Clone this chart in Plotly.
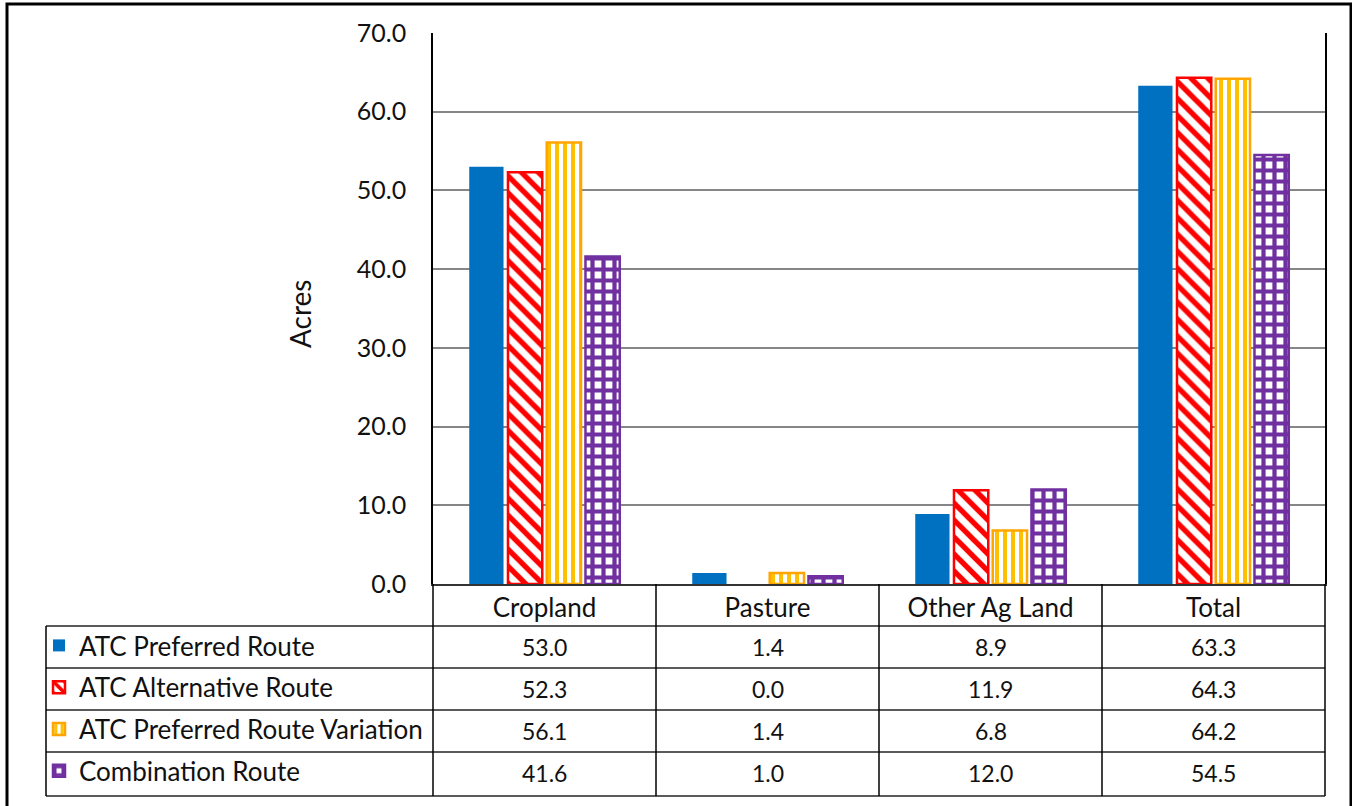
import plotly.graph_objects as go

categories = ["Cropland", "Pasture", "Other Ag Land", "Total"]
series_names = ["ATC Preferred Route", "ATC Alternative Route",
                "ATC Preferred Route Variation", "Combination Route"]
preferred = [53.0, 1.4, 8.9, 63.3]
alternative = [52.3, 0.0, 11.9, 64.3]
variation = [56.1, 1.4, 6.8, 64.2]
combination = [41.6, 1.0, 12.0, 54.5]
series_values = [preferred, alternative, variation, combination]
y_ticks = [0, 10, 20, 30, 40, 50, 60, 70]

W, H = 1352, 806
L, R, T, B = 433, 1325, 33, 584  # plot area in px
FONT = "Lato"
TXT = "#111111"


def px(x):
    return (x - L) / (R - L)


def py(y):
    return (B - y) / (B - T)


styles = [
    dict(color="#0070C0", line_color="#0070C0", line_w=0, pattern=None),
    dict(color="#FF0000", line_color="#FF0000", line_w=2.5,
         pattern=dict(shape="\\", fgcolor="#FF0000", bgcolor="white",
                      size=12, solidity=0.45, fillmode="replace")),
    dict(color="#FFA500", line_color="#FFA500", line_w=2.5,
         pattern=dict(shape="|", fgcolor="#FFC000", bgcolor="white",
                      size=8, solidity=0.5, fillmode="replace")),
    dict(color="#7030A0", line_color="#7030A0", line_w=2.5,
         pattern=dict(shape="+", fgcolor="#7030A0", bgcolor="white",
                      size=11, solidity=0.62, fillmode="replace")),
]

fig = go.Figure()
for name, vals, st in zip(series_names, series_values, styles):
    marker = dict(color=st["color"],
                  line=dict(color=st["line_color"],
                            width=[st["line_w"] if v > 0 else 0 for v in vals]))
    if st["pattern"]:
        marker["pattern"] = st["pattern"]
    fig.add_trace(go.Bar(x=categories, y=vals, name=name, legendgroup=name,
                         marker=marker))

shapes = []
line_h = dict(color="#5a5a5a", width=2)
line_v = dict(color="#000000", width=1.5)
for yy in [626, 668, 710, 752, 796]:
    shapes.append(dict(type="line", xref="paper", yref="paper",
                       x0=px(46), x1=px(1325), y0=py(yy), y1=py(yy), line=line_h))
for xx in [656, 879, 1102, 433, 1325]:
    shapes.append(dict(type="line", xref="paper", yref="paper",
                       x0=px(xx), x1=px(xx), y0=py(584), y1=py(796), line=line_v))
shapes.append(dict(type="line", xref="paper", yref="paper",
                   x0=px(46), x1=px(46), y0=py(626), y1=py(796), line=line_v))
shapes.append(dict(type="rect", xref="paper", yref="paper",
                   x0=px(7), x1=px(1351), y0=py(4), y1=py(812),
                   line=dict(color="black", width=3), layer="above"))

annotations = []
col_centers = [544.5, 767.5, 990.5, 1213.5]
row_centers = [647, 689, 731, 773]
for r, vals in enumerate(series_values):
    for c, v in enumerate(vals):
        annotations.append(dict(xref="paper", yref="paper", x=px(col_centers[c]),
                                y=py(row_centers[r]), text=f"{v:.1f}", showarrow=False,
                                font=dict(family=FONT, size=23, color=TXT),
                                xanchor="center", yanchor="middle"))
annotations.append(dict(xref="paper", yref="paper", x=px(300), y=py(314),
                        text="Acres", textangle=-90, showarrow=False,
                        font=dict(family=FONT, size=28, color=TXT),
                        xanchor="center", yanchor="middle"))

fig.update_layout(
    width=W, height=H,
    margin=dict(l=L, r=W - R, t=T, b=H - B, autoexpand=False),
    paper_bgcolor="white", plot_bgcolor="white",
    barmode="group", bargap=0.305, bargroupgap=0.115,
    shapes=shapes, annotations=annotations,
    showlegend=True,
    legend=dict(x=px(39), y=py(622), xanchor="left", yanchor="top",
                font=dict(family=FONT, size=26, color=TXT),
                tracegroupgap=5, traceorder="grouped",
                bgcolor="rgba(0,0,0,0)"),
    font=dict(family=FONT, color=TXT),
)
fig.update_yaxes(range=[0, 70], tickvals=y_ticks, tickformat=".1f",
                 showgrid=True, gridcolor="#868686", gridwidth=2,
                 showline=True, linecolor="black", linewidth=1.5, mirror=True,
                 zeroline=False, ticks="", ticklabelstandoff=20, automargin=False,
                 tickfont=dict(family=FONT, size=25, color=TXT))
fig.update_xaxes(showline=True, linecolor="#333333", linewidth=2,
                 ticks="", ticklabelstandoff=0, automargin=False,
                 tickfont=dict(family=FONT, size=26, color=TXT))

fig.write_html("out.html")
